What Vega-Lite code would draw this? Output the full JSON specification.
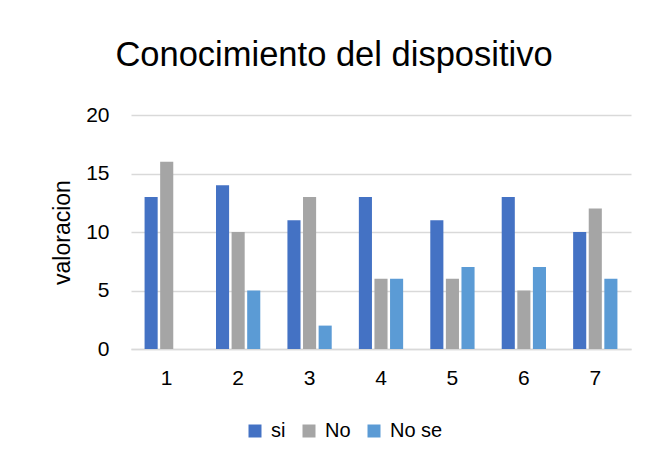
{
  "$schema": "https://vega.github.io/schema/vega-lite/v6.json",
  "width": 500,
  "height": 234,
  "autosize": {"type": "none"},
  "padding": {"left": 131, "top": 115, "right": 18, "bottom": 112},
  "title": {"text": "Conocimiento del dispositivo", "fontSize": 34.5, "font": "Liberation Sans", "fontWeight": "normal", "color": "#000000", "anchor": "middle", "frame": "group", "dx": -47, "offset": 31},
  "data": {"values": [
    {"cat": "1", "serie": "si", "v": 13}, {"cat": "1", "serie": "No", "v": 16},
    {"cat": "2", "serie": "si", "v": 14}, {"cat": "2", "serie": "No", "v": 10}, {"cat": "2", "serie": "No se", "v": 5},
    {"cat": "3", "serie": "si", "v": 11}, {"cat": "3", "serie": "No", "v": 13}, {"cat": "3", "serie": "No se", "v": 2},
    {"cat": "4", "serie": "si", "v": 13}, {"cat": "4", "serie": "No", "v": 6}, {"cat": "4", "serie": "No se", "v": 6},
    {"cat": "5", "serie": "si", "v": 11}, {"cat": "5", "serie": "No", "v": 6}, {"cat": "5", "serie": "No se", "v": 7},
    {"cat": "6", "serie": "si", "v": 13}, {"cat": "6", "serie": "No", "v": 5}, {"cat": "6", "serie": "No se", "v": 7},
    {"cat": "7", "serie": "si", "v": 10}, {"cat": "7", "serie": "No", "v": 12}, {"cat": "7", "serie": "No se", "v": 6}
  ]},
  "mark": {"type": "bar"},
  "encoding": {
    "x": {"field": "cat", "type": "nominal", "sort": null,
      "scale": {"paddingInner": 0.38, "paddingOuter": 0.19},
      "axis": {"title": null, "labelAngle": 0, "labelFontSize": 21, "labelFont": "Liberation Sans", "labelColor": "#000000", "labelPadding": 18, "ticks": false, "domainColor": "#d9d9d9", "domainWidth": 1.5, "grid": false}},
    "xOffset": {"field": "serie", "type": "nominal", "sort": ["si", "No", "No se"], "scale": {"paddingInner": 0.16, "paddingOuter": 0}},
    "y": {"field": "v", "type": "quantitative",
      "scale": {"domain": [0, 20]},
      "axis": {"title": "valoracion", "titleFontSize": 23, "titleFont": "Liberation Sans", "titleFontWeight": "normal", "titleColor": "#000000", "titlePadding": 11,
        "values": [0, 5, 10, 15, 20], "labelFontSize": 21, "labelFont": "Liberation Sans", "labelColor": "#000000", "labelPadding": 22,
        "ticks": false, "domain": false, "gridColor": "#d9d9d9", "gridWidth": 1.5}},
    "color": {"field": "serie", "type": "nominal", "sort": ["si", "No", "No se"],
      "scale": {"domain": ["si", "No", "No se"], "range": ["#4472C4", "#A5A5A5", "#5B9BD5"]},
      "legend": {"title": null, "orient": "none", "legendX": 114, "legendY": 306, "direction": "horizontal", "symbolType": "square", "symbolSize": 169, "symbolStrokeWidth": 0, "labelFontSize": 20, "labelFont": "Liberation Sans", "labelColor": "#000000", "labelOffset": 6, "columnPadding": 13}}
  },
  "config": {"view": {"stroke": null}, "background": "#ffffff"}
}
